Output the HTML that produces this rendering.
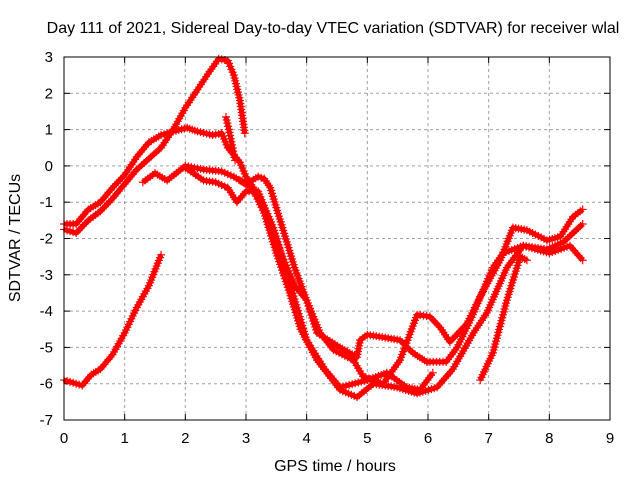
<!DOCTYPE html>
<html><head><meta charset="utf-8"><style>
body{margin:0;background:#fff}
svg{display:block;font-family:"Liberation Sans",sans-serif}
</style></head><body>
<svg id="chart" width="640" height="480" viewBox="0 0 640 480">
<text x="333" y="33" text-anchor="middle" font-size="16">Day 111 of 2021, Sidereal Day-to-day VTEC variation (SDTVAR) for receiver wlal</text>
<text x="335" y="471" text-anchor="middle" font-size="16">GPS time / hours</text>
<text transform="translate(20,238) rotate(-90)" text-anchor="middle" font-size="16">SDTVAR / TECUs</text>
<g id="grid"></g>
<g id="ticks"></g>
<g id="series"></g>
<rect x="64" y="57" width="546" height="363" fill="none" stroke="#000" stroke-width="1"/>
</svg>
<script>
const xTicks=[0,1,2,3,4,5,6,7,8,9];
const yTicks=[3,2,1,0,-1,-2,-3,-4,-5,-6,-7];
const seriesA=[[0,-5.9],[0.1,-5.95],[0.3,-6.05],[0.45,-5.75],[0.6,-5.6],[0.8,-5.2],[1.0,-4.6],[1.2,-3.9],[1.4,-3.3],[1.6,-2.45]];
const seriesB=[[0,-1.75],[0.2,-1.85],[0.4,-1.5],[0.6,-1.25],[0.8,-0.9],[1.0,-0.5],[1.2,-0.1],[1.4,0.2],[1.6,0.5],[1.8,1.0],[2.0,1.6],[2.2,2.1],[2.4,2.6],[2.55,2.95],[2.7,2.9],[2.8,2.5],[2.9,1.8],[2.98,0.9]];
const seriesC=[[0,-1.6],[0.2,-1.6],[0.4,-1.2],[0.6,-1.0],[0.8,-0.6],[1.0,-0.25],[1.2,0.25],[1.4,0.65],[1.6,0.85],[1.8,0.95],[2.03,1.05],[2.2,0.95],[2.45,0.85],[2.6,0.9],[2.7,0.5],[2.9,0.1],[3.0,-0.3],[3.2,-0.8],[3.4,-1.6],[3.6,-2.5],[3.8,-3.3],[4.0,-3.7],[4.22,-4.6],[4.44,-5.07],[4.77,-5.35],[4.93,-5.8],[5.26,-6.0],[5.54,-5.35],[5.82,-4.1],[6.03,-4.15],[6.2,-4.45],[6.36,-4.85],[6.64,-4.35],[6.86,-3.6],[7.19,-2.6],[7.4,-1.7],[7.63,-1.77],[7.96,-2.05],[8.18,-1.95],[8.39,-1.4],[8.55,-1.2]];
const seriesD=[[1.3,-0.45],[1.5,-0.2],[1.7,-0.4],[2.0,0],[2.3,-0.1],[2.6,-0.15],[2.8,-0.3],[3.0,-0.5],[3.2,-0.3],[3.3,-0.35],[3.4,-0.6],[3.6,-1.7],[3.8,-2.8],[4.0,-3.7],[4.17,-4.6],[4.55,-5.0],[4.83,-5.27],[4.88,-4.8],[5.0,-4.65],[5.54,-4.8],[5.75,-5.15],[5.98,-5.4],[6.3,-5.4],[6.48,-5.0],[6.7,-4.25],[7.07,-2.8],[7.24,-2.4],[7.57,-2.2],[7.96,-2.3],[8.23,-2.1],[8.55,-1.6]];
const seriesE=[[2.0,-0.05],[2.3,-0.4],[2.5,-0.45],[2.7,-0.6],[2.85,-1.0],[3.0,-0.7],[3.2,-0.7],[3.45,-1.7],[3.7,-3.1],[4.0,-4.8],[4.3,-5.6],[4.55,-6.1],[5.0,-5.9],[5.32,-5.7],[5.65,-6.1],[5.87,-6.17],[6.08,-5.7]];
const seriesF=[[2.9,-0.4],[3.1,-0.6],[3.3,-1.3],[3.5,-2.4],[3.72,-3.5],[3.9,-4.5],[4.17,-5.35],[4.55,-6.17],[4.83,-6.37],[5.1,-6.0],[5.49,-6.1],[5.82,-6.27],[6.15,-6.1],[6.41,-5.6],[6.75,-4.6],[6.97,-4.05],[7.3,-2.8],[7.57,-2.2],[8.0,-2.4],[8.34,-2.2],[8.55,-2.6]];
const seriesG=[[2.67,1.35],[2.75,0.75],[2.82,0.15]];
const seriesH=[[6.86,-5.9],[7.07,-5.15],[7.3,-3.7],[7.52,-2.5],[7.63,-2.6]];
const allSeries=[seriesA,seriesB,seriesC,seriesD,seriesE,seriesF,seriesG,seriesH];
const NS="http://www.w3.org/2000/svg";
const X0=64,X1=610,Y0=57,Y1=420;
function sx(h){return X0+(h-0)/(9-0)*(X1-X0);}
function sy(v){return Y0+(3-v)/(3-(-7))*(Y1-Y0);}
const grid=document.getElementById('grid'),ticks=document.getElementById('ticks'),ser=document.getElementById('series');
function mk(tag,attrs,parent){const e=document.createElementNS(NS,tag);for(const k in attrs)e.setAttribute(k,attrs[k]);parent.appendChild(e);return e;}
xTicks.forEach(t=>{const x=sx(t);
 if(t>0&&t<9){const g=mk('line',{x1:x,x2:x,y1:Y0,y2:Y1,stroke:'#a0a0a0','stroke-dasharray':'3,3'},grid);}
 mk('line',{x1:x,x2:x,y1:Y1,y2:Y1-6,stroke:'#000'},ticks);mk('line',{x1:x,x2:x,y1:Y0,y2:Y0+6,stroke:'#000'},ticks);
 const l=mk('text',{x:x,y:Y1+23,'text-anchor':'middle','font-size':'15'},ticks);l.textContent=t;
 });
yTicks.forEach(t=>{const y=sy(t);
 if(t<3&&t>-7){const g=mk('line',{x1:X0,x2:X1,y1:y,y2:y,stroke:'#a0a0a0','stroke-dasharray':'3,3'},grid);}
 mk('line',{x1:X0,x2:X0+6,y1:y,y2:y,stroke:'#000'},ticks);mk('line',{x1:X1,x2:X1-6,y1:y,y2:y,stroke:'#000'},ticks);
 const l=mk('text',{x:X0-11,y:y+5,'text-anchor':'end','font-size':'15'},ticks);l.textContent=t;
 });
allSeries.forEach((s,i)=>{
 const g=mk('g',{},ser);
 
 
 const pts=s.map(p=>sx(p[0])+','+sy(p[1])).join(' ');
 mk('polyline',{points:pts,fill:'none',stroke:'#ff0000','stroke-width':5,'stroke-linejoin':'round'},g);
 let d='';
 for(let k=0;k<s.length-1;k++){const xa=sx(s[k][0]),ya=sy(s[k][1]),xb=sx(s[k+1][0]),yb=sy(s[k+1][1]);
  const n=Math.max(1,Math.round(Math.hypot(xb-xa,yb-ya)/3));
  for(let j=0;j<n;j++){const x=xa+(xb-xa)*j/n,y=ya+(yb-ya)*j/n;d+=`M${x-4},${y}h8M${x},${y-4}v8`;}}
 const L=s[s.length-1];d+=`M${sx(L[0])-4},${sy(L[1])}h8M${sx(L[0])},${sy(L[1])-4}v8`;
 mk('path',{d:d,stroke:'#ff0000','stroke-width':1.2,fill:'none'},g);
});
</script>
</body></html>
